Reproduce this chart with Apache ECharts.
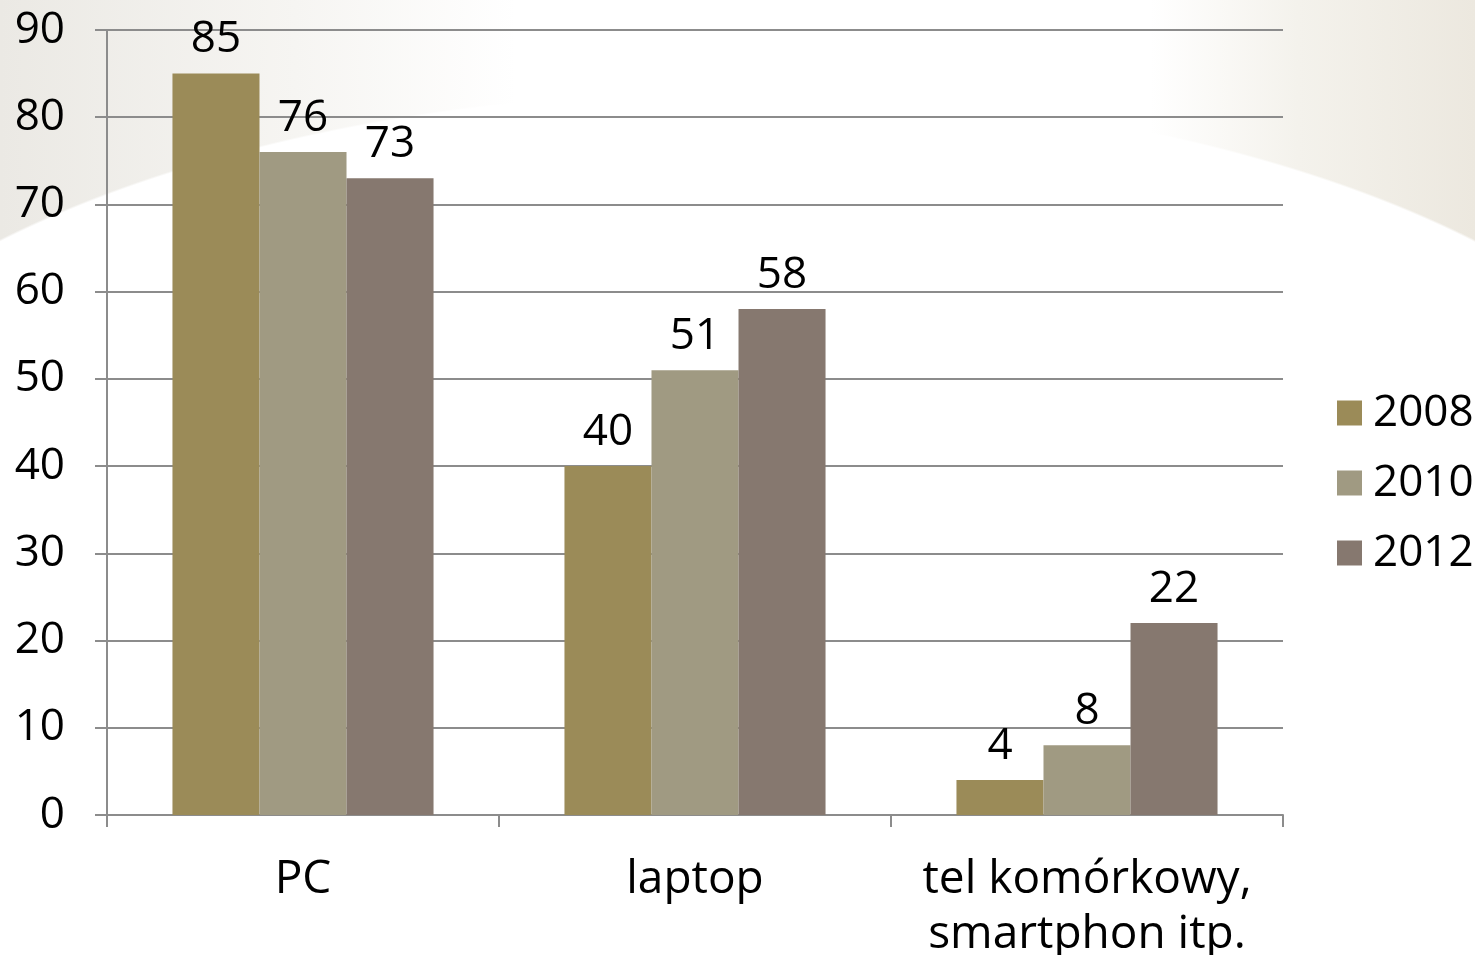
<!DOCTYPE html>
<html>
<head>
<meta charset="utf-8">
<script src="https://cdn.jsdelivr.net/npm/echarts@6/dist/echarts.min.js"></script>
<style>
html, body { margin: 0; padding: 0; }
body {
  width: 1475px; height: 955px; overflow: hidden;
  background:
    radial-gradient(ellipse 1000px 460px at 737px 550px, #ffffff 99.6%, rgba(255,255,255,0) 100%),
    linear-gradient(to bottom, rgba(255,255,255,0) 0px, rgba(255,255,255,0) 560px, #ffffff 620px),
    linear-gradient(to right, #ebe9e4 0%, #f6f5f2 20%, #ffffff 35%, #ffffff 78%, #f4f2ec 88%, #ece8df 100%);
}
#content-data { width: 1475px; height: 955px; }
</style>
</head>
<body>
<div id="content-data"></div>
<script>
var categories = ['PC', 'laptop', 'tel komórkowy,\nsmartphon itp.'];
var years = ['2008', '2010', '2012'];
var values2008 = [85, 40, 4];
var values2010 = [76, 51, 8];
var values2012 = [73, 58, 22];
var yTicks = [0, 10, 20, 30, 40, 50, 60, 70, 80, 90];

var dom = document.getElementById('content-data');
var myChart = echarts.init(dom, null, {
  renderer: 'canvas',
  useDirtyRect: false
});

var font = 'Open Sans';
var axisColor = '#8c8c8c';
var colors = ['#9b8b58', '#a09a82', '#86786f'];
var seriesData = [values2008, values2010, values2012];

var option = {
  backgroundColor: 'transparent',
  animation: false,
  textStyle: { fontFamily: font },
  legend: {
    orient: 'vertical',
    left: 1332,
    top: 386,
    itemWidth: 25,
    itemHeight: 25,
    itemGap: 26,
    icon: 'rect',
    data: years,
    textStyle: {
      fontFamily: font,
      fontSize: 44,
      lineHeight: 44,
      color: '#000',
      padding: [0, 0, 0, 6]
    }
  },
  grid: {
    left: 107,
    right: 192,
    top: 30,
    bottom: 140,
    containLabel: false,
    outerBoundsMode: 'none'
  },
  xAxis: [
    {
      type: 'category',
      data: categories,
      axisLine: { show: true, lineStyle: { color: axisColor, width: 2 } },
      axisTick: { show: true, interval: 0, length: 12, lineStyle: { color: axisColor, width: 2 } },
      axisLabel: {
        interval: 0,
        fontFamily: font,
        fontSize: 46,
        lineHeight: 55,
        color: '#000',
        margin: 37
      }
    }
  ],
  yAxis: [
    {
      type: 'value',
      min: yTicks[0],
      max: yTicks[yTicks.length - 1],
      interval: 10,
      axisLine: { show: true, lineStyle: { color: axisColor, width: 2 } },
      axisTick: { show: true, length: 12, lineStyle: { color: axisColor, width: 2 } },
      splitLine: { show: true, lineStyle: { color: axisColor, width: 2 } },
      axisLabel: {
        fontFamily: font,
        fontSize: 44,
        color: '#000',
        margin: 42
      }
    }
  ],
  series: years.map(function (y, i) {
    return {
      name: y,
      type: 'bar',
      color: colors[i],
      barGap: '0%',
      barCategoryGap: '33.4%',
      data: seriesData[i],
      label: {
        show: true,
        position: 'top',
        distance: 12,
        fontFamily: font,
        fontSize: 44,
        lineHeight: 44,
        color: '#000'
      }
    };
  })
};

if (option && typeof option === 'object') {
  myChart.setOption(option);
}

window.addEventListener('resize', myChart.resize);
</script>
</body>
</html>
